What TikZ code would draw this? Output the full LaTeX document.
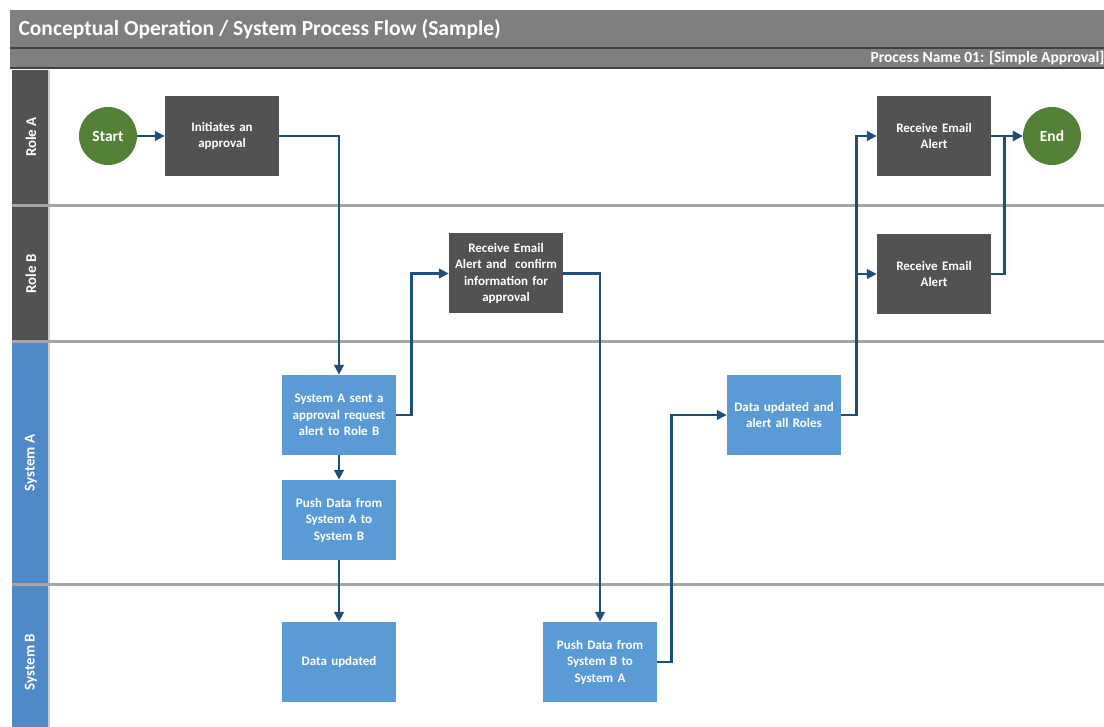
\documentclass[tikz,border=0pt]{standalone}
\usepackage{fontspec}
\setmainfont{Carlito}
\usetikzlibrary{arrows.meta}
\definecolor{titlegray}{HTML}{7F7F7F}
\definecolor{darkline}{HTML}{404040}
\definecolor{dkbox}{HTML}{525252}
\definecolor{bluebox}{HTML}{5B9BD5}
\definecolor{bluelane}{HTML}{4F89C6}
\definecolor{termgreen}{HTML}{538135}
\definecolor{flowblue}{HTML}{1F4E79}
\definecolor{sepgray}{HTML}{A6A6A6}
\tikzset{
  boxbase/.style={minimum width=114pt, minimum height=80pt, inner sep=0pt, text width=108pt, align=center, text=white, font=\bfseries\fontsize{13}{16.5}\selectfont},
  dbox/.style={boxbase, fill=dkbox},
  bbox/.style={boxbase, fill=bluebox},
  term/.style={circle, fill=termgreen, minimum size=58pt, inner sep=0pt, text=white, font=\bfseries\fontsize{15.5}{18}\selectfont},
  flow/.style={draw=flowblue, line width=2.7pt, -{Triangle[length=10pt,width=9.5pt]}},
  lanelbl/.style={rotate=90, text=white, font=\bfseries\fontsize{15}{18}\selectfont},
  sepline/.style={draw=sepgray, line width=3pt}
}
\begin{document}
\begin{tikzpicture}[x=1pt,y=-1pt]
\useasboundingbox (0,0) rectangle (1104,727);
\fill[white] (0,0) rectangle (1104,727);
% title bar
\fill[titlegray] (10,10) rectangle (1104,47);
\node[anchor=west, text=white, font=\bfseries\fontsize{21.5}{24}\selectfont] (title) at (15,29) {Conceptual Operation / System Process Flow (Sample)};
\fill[darkline] (10,47) rectangle (1104,49.5);
\fill[titlegray] (10,49.5) rectangle (1104,67);
\fill[darkline] (10,67) rectangle (1104,69.5);
\node[anchor=east, text=white, font=\bfseries\fontsize{15.5}{18}\selectfont] (pname) at (1108,58) {Process Name 01: [Simple Approval]};
% lane labels
\fill[dkbox] (12,70) rectangle (48,205);
\fill[dkbox] (12,207) rectangle (48,341);
\fill[bluelane] (12,343) rectangle (48,583);
\fill[bluelane] (12,585) rectangle (48,727);
\draw[draw=sepgray!60, line width=1.5pt] (49,70) -- (49,727);
\node[lanelbl] (la) at (31,137) {Role A};
\node[lanelbl] (lb) at (31,274) {Role B};
\node[lanelbl] (lc) at (31,463) {System A};
\node[lanelbl] (ld) at (31,662) {System B};
% separators
\draw[sepline] (12,206) -- (1104,206);
\draw[sepline] (12,342) -- (1104,342);
\draw[sepline] (12,584) -- (1104,584);
% nodes
\node[term] (start) at (108,136) {Start};
\node[dbox] (init) at (222,136) {Initiates an\\approval};
\node[dbox] (confirm) at (506,273.5) {Receive Email\\Alert and\ \ confirm\\information for\\approval};
\node[dbox] (rtop) at (934,136) {Receive Email\\Alert};
\node[dbox] (rbot) at (934,274) {Receive Email\\Alert};
\node[term] (end) at (1052,136) {End};
\node[bbox] (sent) at (339,415) {System A sent a\\approval request\\alert to Role B};
\node[bbox] (pushab) at (339,520) {Push Data from\\System A to\\System B};
\node[bbox] (dataupd) at (339,662) {Data updated};
\node[bbox] (pushba) at (600,662) {Push Data from\\System B to\\System A};
\node[bbox] (dataalert) at (784,415) {Data updated and\\alert all Roles};
% connectors
\draw[flow] (start) -- (init);
\draw[flow] (init.east) -| (sent.north);
\draw[flow] (sent.east) -- ++(15,0) |- (confirm.west);
\draw[flow] (sent) -- (pushab);
\draw[flow] (pushab) -- (dataupd);
\draw[flow] (confirm.east) -| (pushba.north);
\draw[flow] (pushba.east) -- ++(14,0) |- (dataalert.west);
\draw[flow] (dataalert.east) -- ++(15,0) |- (rtop.west);
\draw[flow] (dataalert.east) -- ++(15,0) |- (rbot.west);
\draw[flow] (rtop) -- (end);
\draw[flow] (rbot.east) -- ++(13,0) |- (end.west);
\end{tikzpicture}
\end{document}
